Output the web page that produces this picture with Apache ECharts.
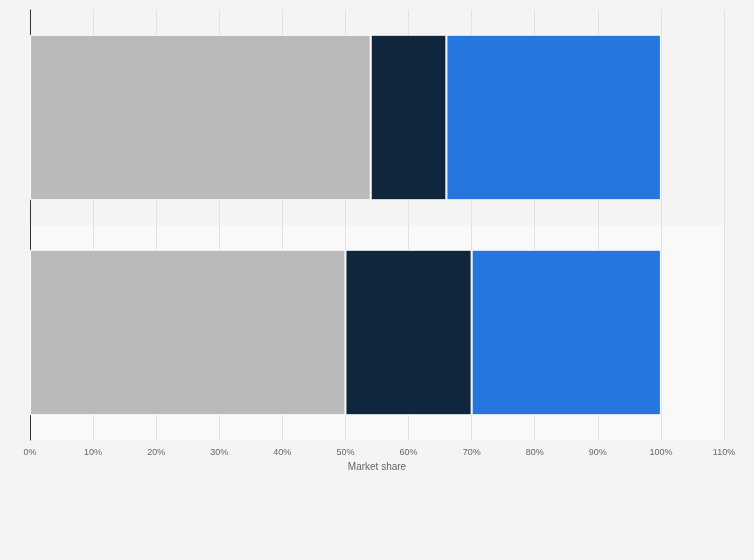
<!DOCTYPE html>
<html><head><meta charset="utf-8">
<script src="https://cdn.jsdelivr.net/npm/echarts@6/dist/echarts.min.js"></script>
<style>html,body{margin:0;background:#f4f4f4}#c{width:754px;height:560px}</style>
</head><body><div id="c"></div>
<script>
const categories = ['B', 'A'];
const seriesGray = [50, 54];
const seriesNavy = [20, 12];
const seriesBlue = [30, 34];
const chart = echarts.init(document.getElementById('c'));
const mk = (name, data, color) => ({
  name, type: 'bar', stack: 's', data, barCategoryGap: '23%',
  itemStyle: { color, borderColor: '#fff', borderWidth: 1 }
});
chart.setOption({
  backgroundColor: '#f4f4f4',
  animation: false,
  grid: { left: 30, right: 30, top: 10, bottom: 120 },
  xAxis: {
    type: 'value', min: 0, max: 110, interval: 10,
    name: 'Market share', nameLocation: 'middle', nameGap: 19,
    nameTextStyle: { color: '#666', fontSize: 10, fontFamily: 'Arial' },
    axisLabel: { formatter: '{value}%', color: '#666', fontSize: 9, fontFamily: 'Arial' },
    splitLine: { lineStyle: { color: '#e2e2e2' } },
    axisLine: { show: false }, axisTick: { show: false }
  },
  yAxis: {
    type: 'category', data: categories,
    axisLabel: { show: false }, axisTick: { show: false },
    axisLine: { lineStyle: { color: '#333' } },
    splitArea: { show: true, areaStyle: { color: ['#f9f9f9', '#f4f4f4'] } }
  },
  series: [mk('Gray', seriesGray, '#bababa'), mk('Navy', seriesNavy, '#0f263d'), mk('Blue', seriesBlue, '#2576df')]
});
</script></body></html>
